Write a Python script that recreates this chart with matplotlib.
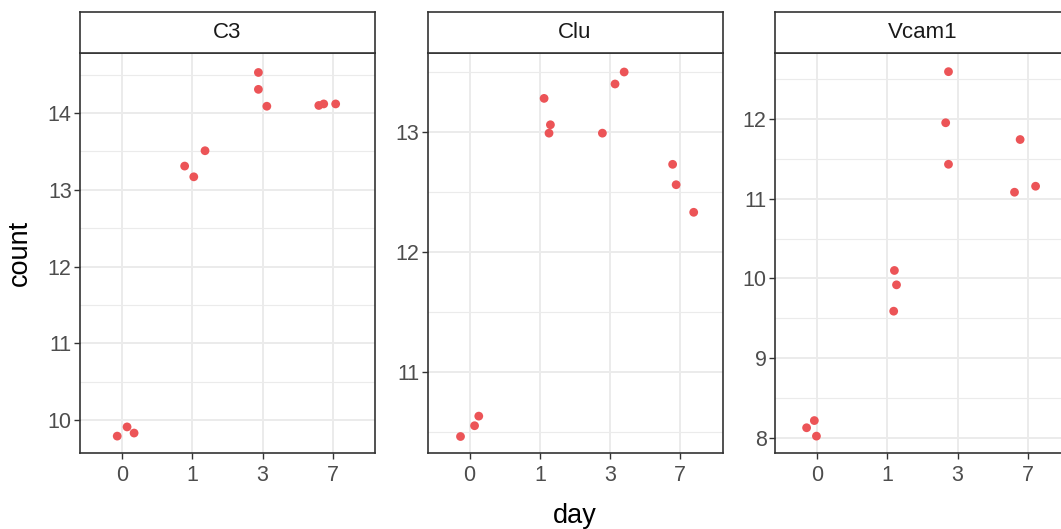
import numpy as np
import matplotlib
matplotlib.use("Agg")
import matplotlib.pyplot as plt

plt.rcParams['font.family'] = ['Liberation Sans', 'DejaVu Sans']

# Data: facets, days (discrete), jitter offsets and counts
genes = ["C3", "Clu", "Vcam1"]
day_levels = ["0", "1", "3", "7"]

days = ["0", "0", "0", "1", "1", "1", "3", "3", "3", "7", "7", "7"]

c3_jitter = [-0.07, 0.07, 0.17, -0.11, 0.02, 0.18, -0.06, -0.06, 0.06, -0.20, -0.13, 0.04]
c3_count = [9.79, 9.91, 9.83, 13.31, 13.17, 13.51, 14.53, 14.31, 14.09, 14.10, 14.12, 14.12]

clu_jitter = [-0.13, 0.07, 0.13, 0.06, 0.15, 0.13, -0.11, 0.07, 0.20, -0.11, -0.06, 0.19]
clu_count = [10.46, 10.55, 10.63, 13.28, 13.06, 12.99, 12.99, 13.40, 13.50, 12.73, 12.56, 12.33]

vcam1_jitter = [-0.15, -0.04, -0.01, 0.10, 0.13, 0.09, -0.13, -0.17, -0.13, -0.11, -0.19, 0.11]
vcam1_count = [8.13, 8.22, 8.025, 10.10, 9.92, 9.59, 12.59, 11.95, 11.43, 11.74, 11.08, 11.155]

jitters = [c3_jitter, clu_jitter, vcam1_jitter]
counts = [c3_count, clu_count, vcam1_count]

# y limits (ggplot free scales with 5% expansion) and breaks
y_limits = [(9.566, 14.78), (10.32, 13.656), (7.81, 12.82)]
y_breaks = [[10, 11, 12, 13, 14], [11, 12, 13], [8, 9, 10, 11, 12]]

# Styling
W, H = 1061, 529
point_color = "#EC5457"
border_col = "#333333"
tick_col = "#4D4D4D"
grid_major = "#EBEBEB"

fig = plt.figure(figsize=(W / 100, H / 100), dpi=100)

panel_lefts = [80, 427.5, 775]
panel_w = 295
panel_top, panel_bot, strip_top = 53.3, 453.3, 12

for i, gene in enumerate(genes):
    left = panel_lefts[i] / W
    ax = fig.add_axes([left, (H - panel_bot) / H, panel_w / W, (panel_bot - panel_top) / H])
    sax = fig.add_axes([left, (H - panel_top) / H, panel_w / W, (panel_top - strip_top) / H])

    # positions from discrete levels plus jitter
    xpos = np.array([day_levels.index(d) + 1 for d in days]) + np.array(jitters[i])
    ax.scatter(xpos, counts[i], s=40, color=point_color, edgecolors='none', zorder=3)

    ax.set_xlim(0.4, 4.6)
    ax.set_ylim(*y_limits[i])
    ax.set_xticks(range(1, len(day_levels) + 1))
    ax.set_xticklabels(day_levels)
    ax.set_yticks(y_breaks[i])
    ax.set_yticklabels([str(b) for b in y_breaks[i]])

    minor = [b + 0.5 for b in [y_breaks[i][0] - 1] + y_breaks[i]]
    minor = [m for m in minor if y_limits[i][0] < m < y_limits[i][1]]
    ax.set_yticks(minor, minor=True)
    ax.tick_params(axis='y', which='minor', length=0)

    ax.grid(True, which='major', color=grid_major, linewidth=1.4, zorder=0)
    ax.grid(True, which='minor', axis='y', color=grid_major, linewidth=0.8, zorder=0)
    ax.set_axisbelow(True)

    ax.tick_params(which='major', length=4, width=1.0, color=border_col,
                   labelsize=15.5, labelcolor=tick_col, pad=2)
    ax.tick_params(axis='x', which='major', pad=4.5)
    for sp in ax.spines.values():
        sp.set_color(border_col)
        sp.set_linewidth(1.2)

    sax.set_xticks([])
    sax.set_yticks([])
    sax.set_facecolor("white")
    for sp in sax.spines.values():
        sp.set_color(border_col)
        sp.set_linewidth(1.2)
    sax.text(0.5, 0.5, gene, ha='center', va='center', fontsize=16,
             color="#1A1A1A", transform=sax.transAxes)

fig.text(20 / W, 1 - 253 / H, "count", rotation=90, ha='center', va='center',
         fontsize=19.5, color="black")
fig.text(575 / W, 1 - 516 / H, "day", ha='center', va='center',
         fontsize=19.5, color="black")

fig.savefig("out.png", dpi=100)
